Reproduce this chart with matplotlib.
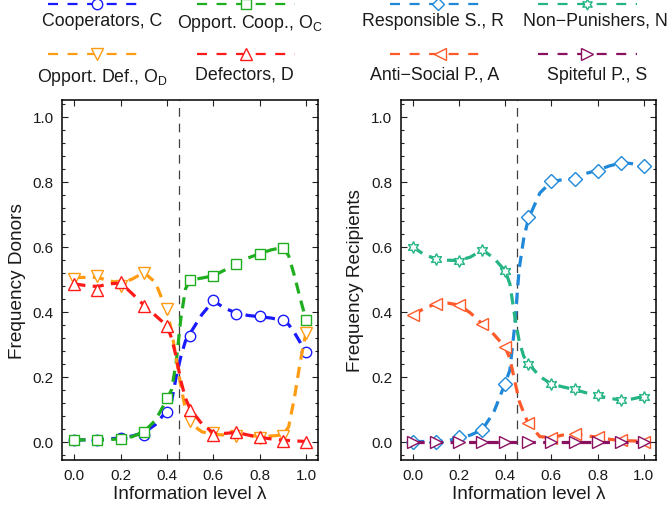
import matplotlib
matplotlib.use("Agg")
import matplotlib.pyplot as plt
from matplotlib.lines import Line2D
from matplotlib.ticker import MultipleLocator

plt.rcParams['font.family'] = ['Liberation Sans', 'DejaVu Sans']
plt.rcParams['mathtext.fontset'] = 'custom'
plt.rcParams['mathtext.rm'] = 'Liberation Sans'
plt.rcParams['mathtext.it'] = 'Liberation Sans:italic'

# ---------------- data ----------------
lam = [0.0, 0.1, 0.2, 0.3, 0.4, 0.5, 0.6, 0.7, 0.8, 0.9, 1.0]

# donors (markers)
coop_C = [0.005, 0.005, 0.012, 0.02, 0.092, 0.325, 0.434, 0.392, 0.385, 0.374, 0.276]
opp_coop_OC = [0.005, 0.005, 0.008, 0.03, 0.134, 0.496, 0.508, 0.547, 0.576, 0.596, 0.375]
opp_def_OD = [0.500, 0.510, 0.480, 0.520, 0.407, 0.062, 0.026, 0.017, 0.012, 0.016, 0.335]
defect_D = [0.485, 0.467, 0.490, 0.417, 0.357, 0.097, 0.020, 0.030, 0.013, 0.003, 0.000]

# recipients (markers)
resp_R = [0.000, 0.000, 0.013, 0.035, 0.177, 0.692, 0.803, 0.808, 0.834, 0.857, 0.849]
nonpun_N = [0.598, 0.562, 0.557, 0.590, 0.524, 0.238, 0.176, 0.161, 0.142, 0.128, 0.138]
anti_A = [0.390, 0.424, 0.420, 0.362, 0.290, 0.057, 0.012, 0.024, 0.013, 0.004, 0.000]
spite_S = [0.000, 0.000, 0.000, 0.000, 0.000, 0.000, 0.000, 0.000, 0.000, 0.000, 0.000]

# fitted curves
lam_fit = [0.0, 0.05, 0.1, 0.15, 0.2, 0.25, 0.3, 0.35, 0.4, 0.42, 0.44, 0.46, 0.48,
           0.5, 0.55, 0.6, 0.65, 0.7, 0.75, 0.8, 0.85, 0.9, 0.925, 0.95, 0.975, 1.0]
fit_C = [0.005, 0.005, 0.006, 0.008, 0.011, 0.017, 0.027, 0.052, 0.095, 0.124, 0.20, 0.262, 0.31,
         0.333, 0.39, 0.433, 0.41, 0.395, 0.388, 0.384, 0.38, 0.372, 0.36, 0.335, 0.305, 0.275]
fit_OC = [0.005, 0.005, 0.005, 0.006, 0.008, 0.015, 0.03, 0.065, 0.13, 0.16, 0.245, 0.38, 0.47,
          0.497, 0.503, 0.51, 0.528, 0.547, 0.565, 0.578, 0.59, 0.597, 0.572, 0.51, 0.44, 0.375]
fit_OD = [0.505, 0.505, 0.505, 0.495, 0.487, 0.50, 0.52, 0.49, 0.40, 0.34, 0.255, 0.17, 0.098,
          0.057, 0.03, 0.022, 0.02, 0.02, 0.018, 0.016, 0.017, 0.02, 0.045, 0.135, 0.245, 0.335]
fit_D = [0.485, 0.48, 0.477, 0.485, 0.488, 0.455, 0.42, 0.388, 0.356, 0.318, 0.26, 0.186, 0.133,
         0.10, 0.055, 0.026, 0.025, 0.028, 0.02, 0.013, 0.008, 0.004, 0.003, 0.002, 0.001, 0.0]

fit_R = [0.0, 0.0, 0.0, 0.003, 0.01, 0.02, 0.036, 0.09, 0.18, 0.22, 0.35, 0.53, 0.625,
         0.685, 0.765, 0.80, 0.806, 0.81, 0.825, 0.835, 0.848, 0.857, 0.857, 0.855, 0.852, 0.849]
fit_N = [0.598, 0.575, 0.562, 0.558, 0.557, 0.568, 0.59, 0.565, 0.525, 0.485, 0.39, 0.31, 0.262,
         0.24, 0.20, 0.177, 0.168, 0.16, 0.15, 0.141, 0.133, 0.128, 0.129, 0.131, 0.135, 0.138]
fit_A = [0.39, 0.41, 0.424, 0.426, 0.42, 0.395, 0.362, 0.33, 0.29, 0.255, 0.19, 0.125, 0.088,
         0.055, 0.015, 0.012, 0.02, 0.023, 0.018, 0.013, 0.007, 0.003, 0.002, 0.002, 0.001, 0.0]
fit_S = [0.0] * len(lam_fit)

critical_lam = 0.45

donor_labels = ['Cooperators, C', r'Opport. Coop., O$_\mathrm{C}$',
                r'Opport. Def., O$_\mathrm{D}$', 'Defectors, D']
recip_labels = ['Responsible S., R', 'Non\u2212Punishers, N',
                'Anti\u2212Social P., A', 'Spiteful P., S']

# ---------------- styles ----------------
c_C, c_OC, c_OD, c_D = '#1a1aff', '#1fae1f', '#ff9c14', '#ff1a1a'
c_R, c_N, c_A, c_S = '#1f88d8', '#25b585', '#ff5a2a', '#8a1060'

donor_series = [
    (fit_C, coop_C, c_C, 'o', 7.5),
    (fit_OC, opp_coop_OC, c_OC, 's', 6.5),
    (fit_OD, opp_def_OD, c_OD, 'v', 8.0),
    (fit_D, defect_D, c_D, '^', 8.0),
]
recip_series = [
    (fit_R, resp_R, c_R, 'D', 7.0),
    (fit_N, nonpun_N, c_N, (6, 1, 0), 8.5),
    (fit_A, anti_A, c_A, '<', 8.0),
    (fit_S, spite_S, c_S, '>', 8.0),
]

W, H = 670, 510
fig = plt.figure(figsize=(W / 100, H / 100), dpi=100)


def px_axes(x0, y0, x1, y1):
    return fig.add_axes([x0 / W, 1 - y1 / H, (x1 - x0) / W, (y1 - y0) / H])


axL = px_axes(62, 100.7, 318.3, 460.7)
axR = px_axes(400.7, 100.7, 656, 460.7)


def draw(ax, series, ylabel):
    for fit, pts, col, mk, ms in series:
        ln, = ax.plot(lam_fit, fit, color=col, lw=2.3, solid_capstyle='butt')
        ln.set_dashes((3.5, 2.3))
        ax.plot(lam, pts, ls='none', marker=mk, ms=ms, mfc='white', mec=col, mew=1.0)
    vl = ax.axvline(critical_lam, color='#404040', lw=0.9, zorder=0.5)
    vl.set_dashes((7, 5.5))
    ax.set_xlim(-0.053, 1.053)
    ax.set_ylim(-0.056, 1.052)
    ax.yaxis.set_minor_locator(MultipleLocator(0.04))
    ax.set_xticks([0.0, 0.2, 0.4, 0.6, 0.8, 1.0])
    ax.set_xticklabels(['0.0', '0.2', '0.4', '0.6', '0.8', '1.0'])
    ax.set_yticks([0.0, 0.2, 0.4, 0.6, 0.8, 1.0])
    ax.set_yticklabels(['0.0', '0.2', '0.4', '0.6', '0.8', '1.0'])
    ax.tick_params(which='both', direction='in', top=True, right=True, labelsize=11,
                   width=0.8, color='#222222', labelcolor='#1a1a1a')
    ax.tick_params(which='major', length=4.5, pad=6)
    ax.tick_params(which='minor', length=2.2)
    for s in ax.spines.values():
        s.set_linewidth(1.1)
    ax.set_xlabel('Information level \u03bb', fontsize=13.7, labelpad=2, color='#1a1a1a')
    ax.set_ylabel(ylabel, fontsize=13.7, labelpad=5, color='#1a1a1a')


draw(axL, donor_series, 'Frequency Donors')
draw(axR, recip_series, 'Frequency Recipients')


# ---------------- legends (handle above text) ----------------
def legend_item(x0, x1, xm, yh, xt, yt, col, mk, ms, label):
    ln = Line2D([x0 / W, x1 / W], [1 - yh / H, 1 - yh / H], transform=fig.transFigure,
                color=col, lw=1.6)
    ln.set_dashes((4.5, 4.3))
    fig.add_artist(ln)
    m = Line2D([xm / W], [1 - yh / H], transform=fig.transFigure, ls='none',
               marker=mk, ms=ms, mfc='white', mec=col, mew=1.0)
    fig.add_artist(m)
    fig.text(xt / W, 1 - yt / H, label, ha='center', va='center', fontsize=12.8,
             color='#1a1a1a')


legend_item(48, 145, 97, 5, 102, 21, c_C, 'o', 7.5, donor_labels[0])
legend_item(197, 295, 246, 5, 250, 23, c_OC, 's', 6.5, donor_labels[1])
legend_item(48, 145, 97, 55, 102, 77, c_OD, 'v', 8.0, donor_labels[2])
legend_item(197, 295, 246, 55, 244, 75, c_D, '^', 8.0, donor_labels[3])

legend_item(390, 487, 438, 5, 433, 21, c_R, 'D', 6.5, recip_labels[0])
legend_item(538, 637, 587, 5, 595, 21, c_N, (6, 1, 0), 8.0, recip_labels[1])
legend_item(390, 487, 440, 55, 435, 75, c_A, '<', 8.0, recip_labels[2])
legend_item(538, 637, 587, 55, 597, 75, c_S, '>', 8.0, recip_labels[3])

fig.savefig('out.png', dpi=100)
